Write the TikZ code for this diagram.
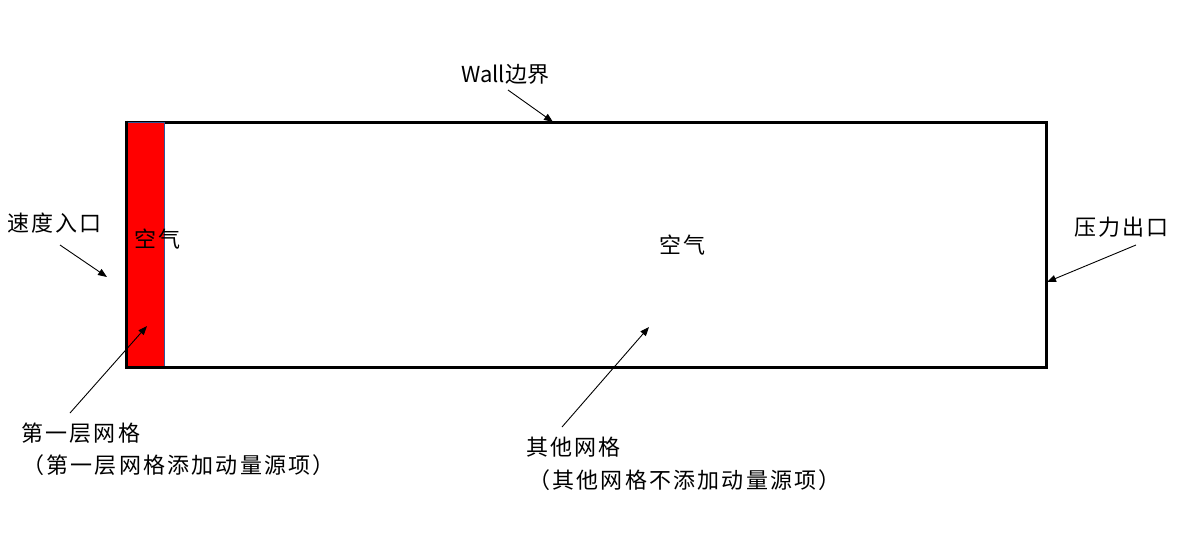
\documentclass[tikz,border=0pt]{standalone}
\usepackage{fontspec}
\setmainfont{Noto Sans CJK SC}
\newfontfamily\spacedcjk[LetterSpace=10]{Noto Sans CJK SC}
\usetikzlibrary{arrows.meta}
\definecolor{stripred}{RGB}{255,0,0}
\definecolor{stripblue}{RGB}{47,85,151}
\begin{document}
\begin{tikzpicture}[x=1pt,y=-1pt,
  lbl/.style={inner sep=0pt,font=\spacedcjk\fontsize{22}{26}\selectfont,anchor=west},
  pointer/.style={line width=0.9pt,-{Triangle[length=9pt,width=7pt]}}]
\useasboundingbox (0,0) rectangle (1177,533);
% domain
\draw[line width=3pt] (126,122) rectangle (1046,367);
\draw[fill=stripred,draw=stripblue,line width=1pt] (127,122) rectangle (164,366);
\draw[line width=3pt] (126,120.5) -- (126,367) -- (166,367);
% texts
\node[lbl] (air1) at (134,239) {空气};
\node[lbl] (air2) at (659,245) {空气};
\node[lbl,font=\fontsize{22}{26}\selectfont] (wall) at (461,74) {Wall边界};
\node[lbl] (inlet) at (7,223) {速度入口};
\node[lbl] (outlet) at (1074,227) {压力出口};
\node[lbl] (first1) at (21,433) {第一层网格};
\node[lbl] (first2) at (22,465) {（第一层网格添加动量源项）};
\node[lbl] (other1) at (526,447) {其他网格};
\node[lbl] (other2) at (528,480) {（其他网格不添加动量源项）};
% pointer ends
\coordinate (wallA) at (508,90);
\coordinate (wallB) at (553,122);
\coordinate (inA) at (60,245);
\coordinate (inB) at (107,277);
\coordinate (outA) at (1136,245);
\coordinate (outB) at (1047,282);
\coordinate (firstA) at (70,413);
\coordinate (firstB) at (147,326);
\coordinate (otherA) at (562,427);
\coordinate (otherB) at (649,327);
\draw[pointer] (wallA) -- (wallB);
\draw[pointer] (inA) -- (inB);
\draw[pointer] (outA) -- (outB);
\draw[pointer] (firstA) -- (firstB);
\draw[pointer] (otherA) -- (otherB);
\end{tikzpicture}
\end{document}
